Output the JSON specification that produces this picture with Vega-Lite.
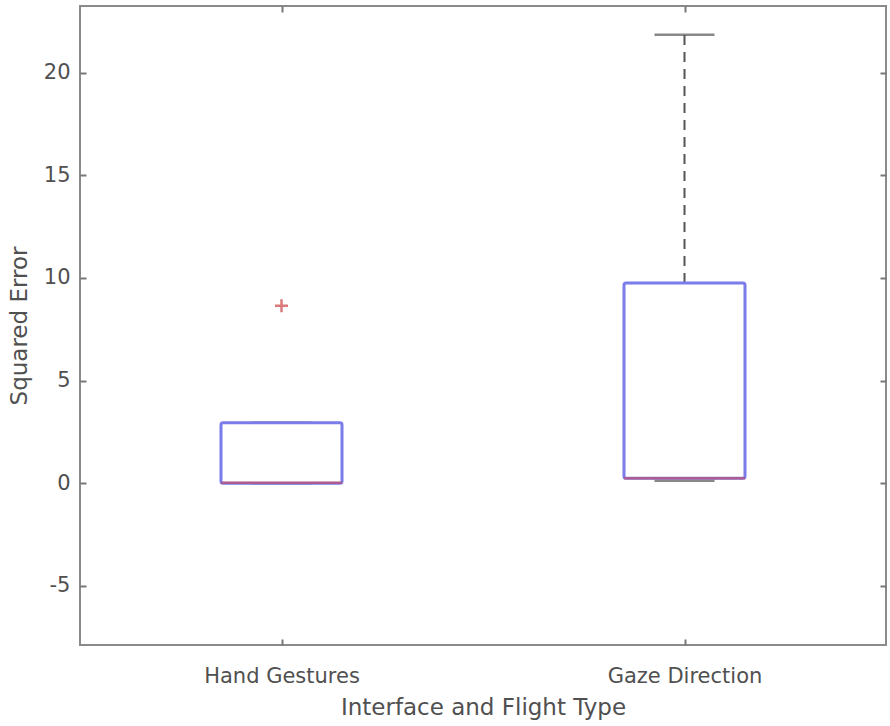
{
  "$schema": "https://vega.github.io/schema/vega-lite/v6.json",
  "width": 806,
  "height": 639,
  "autosize": "none",
  "padding": {"left": 80, "top": 6, "right": 4, "bottom": 81},
  "background": "white",
  "config": {
    "view": {"stroke": "#8a8a8a", "strokeWidth": 2},
    "axis": {
      "grid": false,
      "domain": false,
      "labelFont": "DejaVu Sans",
      "titleFont": "DejaVu Sans",
      "labelColor": "#505050",
      "titleColor": "#505050",
      "labelFontSize": 21,
      "titleFontSize": 23,
      "titleFontWeight": "normal",
      "tickColor": "#777777",
      "tickWidth": 2,
      "tickSize": 6,
      "offset": -6
    }
  },
  "datasets": {
    "boxes": [
      {"type": "Hand Gestures", "lower": 0.0, "q1": 0.0, "median": 0.03, "q3": 2.95, "upper": 2.95},
      {"type": "Gaze Direction", "lower": 0.12, "q1": 0.24, "median": 0.24, "q3": 9.75, "upper": 21.85}
    ],
    "outliers": [
      {"type": "Hand Gestures", "value": 8.65}
    ]
  },
  "resolve": {"axis": {"x": "independent", "y": "independent"}},
  "layer": [
    {
      "data": {"name": "boxes"},
      "mark": {"type": "rule", "strokeDash": [10, 7], "color": "#555555", "strokeWidth": 2},
      "encoding": {
        "x": {"field": "type", "type": "nominal", "sort": ["Hand Gestures", "Gaze Direction"], "scale": {"type": "point", "padding": 0.5},
          "axis": {"title": "Interface and Flight Type", "labelAngle": 0, "labelPadding": 20, "titlePadding": 10}},
        "y": {"field": "q3", "type": "quantitative", "scale": {"domain": [-7.88, 23.25], "nice": false, "zero": false},
          "axis": {"title": "Squared Error", "values": [-5, 0, 5, 10, 15, 20], "labelExpr": "'' + datum.value", "labelPadding": 10, "titlePadding": 12}},
        "y2": {"field": "upper"}
      }
    },
    {
      "data": {"name": "boxes"},
      "mark": {"type": "tick", "color": "#555555", "size": 60, "thickness": 2.5},
      "encoding": {
        "x": {"field": "type", "type": "nominal", "sort": ["Hand Gestures", "Gaze Direction"], "scale": {"type": "point", "padding": 0.5},
          "axis": {"orient": "top", "labels": false, "title": null}},
        "y": {"field": "upper", "type": "quantitative", "axis": {"orient": "right", "labels": false, "title": null, "values": [-5, 0, 5, 10, 15, 20]}}
      }
    },
    {
      "data": {"name": "boxes"},
      "mark": {"type": "tick", "color": "#555555", "size": 60, "thickness": 2.5},
      "encoding": {
        "x": {"field": "type", "type": "nominal", "sort": ["Hand Gestures", "Gaze Direction"], "axis": null},
        "y": {"field": "lower", "type": "quantitative", "axis": null}
      }
    },
    {
      "data": {"name": "boxes"},
      "mark": {"type": "bar", "size": 121, "fill": "white", "stroke": "#7b7bea", "strokeWidth": 3, "cornerRadius": 2},
      "encoding": {
        "x": {"field": "type", "type": "nominal", "sort": ["Hand Gestures", "Gaze Direction"], "axis": null},
        "y": {"field": "q1", "type": "quantitative", "axis": null},
        "y2": {"field": "q3"}
      }
    },
    {
      "data": {"name": "boxes"},
      "mark": {"type": "tick", "color": "#c0506a", "size": 121, "thickness": 2.5},
      "encoding": {
        "x": {"field": "type", "type": "nominal", "sort": ["Hand Gestures", "Gaze Direction"], "axis": null},
        "y": {"field": "median", "type": "quantitative", "axis": null}
      }
    },
    {
      "data": {"name": "outliers"},
      "mark": {"type": "point", "shape": "M-1,0L1,0M0,-1L0,1", "filled": false, "color": "#cc4444", "size": 170, "strokeWidth": 2.5},
      "encoding": {
        "x": {"field": "type", "type": "nominal", "sort": ["Hand Gestures", "Gaze Direction"], "axis": null},
        "y": {"field": "value", "type": "quantitative", "axis": null}
      }
    }
  ]
}
